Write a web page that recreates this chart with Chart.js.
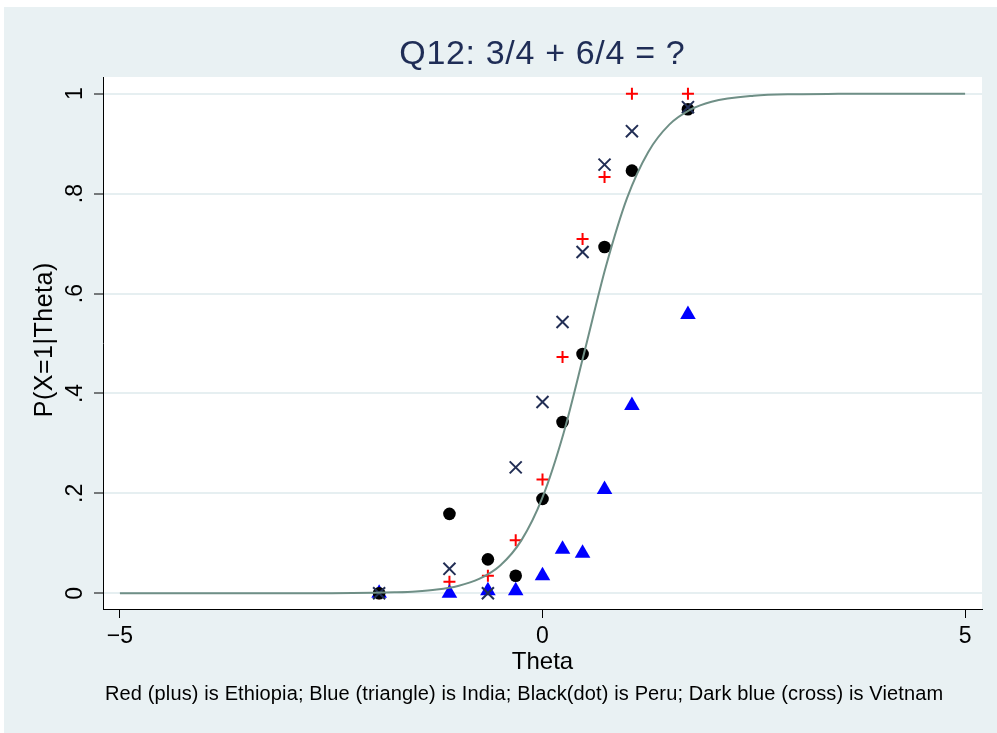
<!DOCTYPE html>
<html>
<head>
<meta charset="utf-8">
<script src="https://cdn.jsdelivr.net/npm/chart.js@4"></script>
<style>
  html, body { margin: 0; padding: 0; background: #fff; }
  canvas { display: block; }
</style>
</head>
<body>
<canvas id="grafico" width="997" height="733"></canvas>
<script>
// Puntos observados por país (theta de cada grupo)
const theta = [-1.933, -1.101, -0.646, -0.317, 0, 0.237, 0.474, 0.734, 1.058, 1.721];
const ethiopia = [0, 0.023, 0.035, 0.106, 0.228, 0.473, 0.709, 0.833, 1.0, 1.0];
const india = [0, 0, 0.005, 0.005, 0.035, 0.088, 0.08, 0.208, 0.376, 0.558];
const peru = [0, 0.159, 0.068, 0.035, 0.189, 0.343, 0.479, 0.693, 0.846, 0.969];
const vietnam = [0, 0.049, 0, 0.252, 0.383, 0.543, 0.683, 0.858, 0.925, 0.973];

// Curva característica
const curvaTheta = [-5, -4, -3, -2.5, -2, -1.75, -1.5, -1.25, -1, -0.75, -0.5, -0.25, 0, 0.25, 0.5, 0.75, 1, 1.25, 1.5, 1.75, 2, 2.5, 3, 3.5, 4, 5];
const curvaP = [0, 0, 0.0001, 0.0002, 0.0009, 0.0019, 0.0037, 0.0074, 0.0146, 0.0287, 0.0557, 0.106, 0.192, 0.321, 0.486, 0.654, 0.791, 0.883, 0.938, 0.968, 0.984, 0.9958, 0.999, 0.9997, 0.9999, 1];

// Ejes
const xTicks = [-5, 0, 5];
const yTicks = [0, 0.2, 0.4, 0.6, 0.8, 1];
const yTickLabels = ['0', '.2', '.4', '.6', '.8', '1'];

const titulo = 'Q12: 3/4 + 6/4 = ?';
const tituloX = 'Theta';
const tituloY = 'P(X=1|Theta)';
const nota = 'Red (plus) is Ethiopia; Blue (triangle) is India; Black(dot) is Peru; Dark blue (cross) is Vietnam';

const FUENTE = '"Liberation Sans", Arial, Helvetica, sans-serif';
const FONDO = '#e9f1f3';

const puntos = ys => theta.map((t, i) => ({ x: t, y: ys[i] }));

// Escribe un texto ajustando el espaciado para que ocupe el ancho indicado
function textoAjustado(ctx, txt, x, y, ancho) {
    ctx.letterSpacing = '0px';
    const medido = ctx.measureText(txt).width;
    const extra = (ancho - medido) / txt.length;
    ctx.letterSpacing = extra.toFixed(2) + 'px';
    ctx.fillText(txt, x + (ctx.textAlign === 'center' ? extra / 2 : 0), y);
    ctx.letterSpacing = '0px';
}

// ---------- Fondo y textos ----------
const decorado = {
    id: 'decorado',
    beforeDraw(chart) {
        const { ctx, chartArea: a } = chart;
        ctx.save();
        ctx.fillStyle = '#fff';
        ctx.fillRect(0, 0, chart.width, chart.height);
        ctx.fillStyle = FONDO;
        ctx.fillRect(4, 7, chart.width - 4, chart.height - 7);
        ctx.fillStyle = '#fff';
        ctx.fillRect(a.left, a.top, a.right - a.left, a.bottom - a.top);
        ctx.restore();
    },
    afterDraw(chart) {
        const { ctx, chartArea: a } = chart;
        const xs = chart.scales.x, ys = chart.scales.y;
        const centroX = (a.left + a.right) / 2;
        ctx.save();

        // Título
        ctx.fillStyle = '#1f2d56';
        ctx.font = '34px ' + FUENTE;
        ctx.textAlign = 'center';
        ctx.textBaseline = 'alphabetic';
        textoAjustado(ctx, titulo, 542, 64, 286);

        // Etiquetas del eje x
        ctx.fillStyle = '#000';
        ctx.font = '23px ' + FUENTE;
        xTicks.forEach(v => {
            const txt = v < 0 ? '\u2212' + Math.abs(v) : String(v);
            ctx.fillText(txt, xs.getPixelForValue(v), 643);
        });

        // Título eje x
        ctx.font = '24px ' + FUENTE;
        ctx.fillText(tituloX, centroX, 669);

        // Etiquetas del eje y (giradas)
        ctx.font = '23px ' + FUENTE;
        yTicks.forEach((v, i) => {
            ctx.save();
            ctx.translate(82, ys.getPixelForValue(v));
            ctx.rotate(-Math.PI / 2);
            ctx.fillText(yTickLabels[i], 0, 0);
            ctx.restore();
        });

        // Título eje y
        ctx.save();
        ctx.font = '25px ' + FUENTE;
        ctx.translate(52, 340);
        ctx.rotate(-Math.PI / 2);
        textoAjustado(ctx, tituloY, 0, 0, 155);
        ctx.restore();

        // Nota
        ctx.font = '20px ' + FUENTE;
        ctx.textAlign = 'left';
        textoAjustado(ctx, nota, 105, 700, 838);
        ctx.restore();
    }
};

new Chart(document.getElementById('grafico'), {
    type: 'scatter',
    data: {
        datasets: [
            {
                type: 'line',
                label: 'Curva',
                data: curvaTheta.map((t, i) => ({ x: t, y: curvaP[i] })),
                borderColor: '#6f8f86',
                borderWidth: 2,
                pointRadius: 0,
                cubicInterpolationMode: 'monotone',
                fill: false,
                order: 0
            },
            {
                label: 'Vietnam',
                data: puntos(vietnam),
                pointStyle: 'crossRot',
                pointRadius: 8.5,
                borderColor: '#222e55',
                borderWidth: 2,
                order: 1
            },
            {
                label: 'Peru',
                data: puntos(peru),
                pointStyle: 'circle',
                pointRadius: 6.3,
                backgroundColor: '#000',
                borderColor: '#000',
                borderWidth: 0,
                order: 2
            },
            {
                label: 'India',
                data: puntos(india),
                pointStyle: 'triangle',
                pointRadius: 9,
                backgroundColor: '#0000ff',
                borderColor: '#0000ff',
                borderWidth: 0,
                order: 3
            },
            {
                label: 'Ethiopia',
                data: puntos(ethiopia),
                pointStyle: 'cross',
                pointRadius: 6,
                borderColor: '#ff0000',
                borderWidth: 2,
                order: 4
            }
        ]
    },
    options: {
        responsive: false,
        animation: false,
        layout: { padding: { top: 77, right: 15, left: 0, bottom: 0 } },
        plugins: {
            legend: { display: false },
            tooltip: { enabled: false }
        },
        scales: {
            x: {
                type: 'linear',
                min: -5.2,
                max: 5.2,
                afterBuildTicks: s => { s.ticks = xTicks.map(v => ({ value: v })); },
                afterFit: s => { s.height = 124; },
                ticks: { display: false },
                grid: { drawOnChartArea: false, drawTicks: true, tickLength: 9, tickColor: '#000', tickWidth: 1 },
                border: { display: true, color: '#000', width: 1 }
            },
            y: {
                type: 'linear',
                min: -0.0314,
                max: 1.0334,
                afterBuildTicks: s => { s.ticks = yTicks.map(v => ({ value: v })); },
                afterFit: s => { s.width = 103; },
                ticks: { display: false },
                grid: { color: '#e6eff1', lineWidth: 2, drawTicks: true, tickLength: 9, tickColor: '#000', tickWidth: 1 },
                border: { display: true, color: '#000', width: 1 }
            }
        }
    },
    plugins: [decorado]
});
</script>
</body>
</html>
